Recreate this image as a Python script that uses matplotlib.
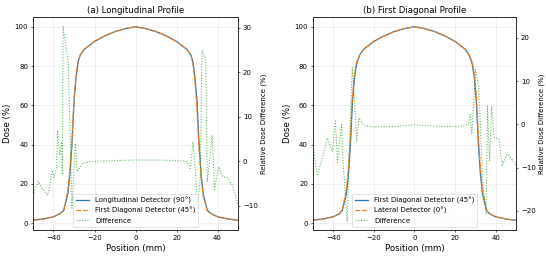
import matplotlib.pyplot as plt
import numpy as np

# dose profiles (position in mm, dose in %)
pos_a = [-50, -45, -40, -37, -35, -33, -32, -31, -30, -29, -28, -27, -25, -20, -15, -10, -5, 0,
         5, 10, 15, 20, 25, 27, 28, 29, 30, 31, 32, 33, 35, 37, 40, 45, 50]
long_a = [1.5, 2.2, 3.3, 4.8, 6.5, 15, 25, 40, 62, 74, 82, 85.5, 88.5, 92.5, 95.3, 97.5, 99, 100,
          99, 97.5, 95.3, 92.5, 88.5, 85.5, 82, 74, 62, 40, 25, 15, 6.5, 4.8, 3.3, 2.2, 1.5]
diag_a = [1.5, 2.2, 3.3, 4.8, 6.8, 16.5, 27, 42, 63, 75, 82.5, 85.5, 88.5, 92.5, 95.3, 97.5, 99, 100,
          99, 97.5, 95.3, 92.5, 88.5, 85.5, 81.5, 72, 57, 37, 23, 14, 6.3, 4.8, 3.3, 2.2, 1.5]

diff_pos_a = [-50, -47.4, -45.5, -42.8, -40.5, -39.7, -38.5, -38, -37, -36, -35.7, -35.3, -34, -32.8,
              -31, -29.4, -28.5, -25.5, -20, -10, 0, 10, 20, 25, 26.7, 28.1, 29.2, 30.3, 31.6, 32.4,
              34.2, 35, 37.4, 38.5, 40.5, 42.3, 44.8, 47.2, 50]
diff_a = [-7.6, -4.5, -6.1, -7.6, -2, -3.7, -1.2, 7, 1.4, 4.4, -3, 30.2, 26, 22.3,
          -10.5, 4, -2.3, -0.3, 0, 0.2, 0.3, 0.3, 0.2, 0, -1.6, 4.4, -2.3, -10.5, -3, 25,
          23, -4.6, 5.9, -6.3, -1.2, -3.4, -3.7, -5.3, -9.8]

pos_b = [-50, -45, -40, -37, -35.5, -33.5, -32.5, -31.5, -30.5, -29.5, -28.5, -27, -25, -20, -15, -10, -5, 0,
         5, 10, 15, 20, 25, 27, 28.5, 29.5, 30.5, 31.5, 32.5, 33.5, 35.5, 37, 40, 45, 50]
diag_b = [1.5, 2.2, 3.3, 4.8, 6.5, 15, 25, 40, 62, 74, 81, 85.5, 88.5, 92.5, 95.3, 97.5, 99, 100,
          99, 97.5, 95.3, 92.5, 88.5, 85.5, 81, 74, 62, 40, 25, 15, 6.5, 4.8, 3.3, 2.2, 1.5]
lat_b = [1.5, 2.2, 3.3, 4.8, 6.8, 17, 28, 44, 65, 76, 82, 85.5, 88.5, 92.5, 95.3, 97.5, 99, 100,
         99, 97.5, 95.3, 92.5, 88.5, 85.5, 82, 76, 65, 44, 28, 17, 6.8, 4.8, 3.3, 2.2, 1.5]

diff_pos_b = [-50.2, -47.8, -45, -42.8, -40.4, -38.9, -37.9, -35.8, -35.3, -34.3, -33.1, -32, -30.6, -29.6,
              -28.4, -27.4, -24.6, -20, -10, 0, 10, 20, 24.6, 26.5, 27.5, 28.3, 30.1, 31.6, 33.3, 34.1,
              35.3, 36, 37, 38, 39.3, 41.6, 43.2, 45.5, 47.4, 50]
diff_b = [-3.9, -11.9, -7, -3.2, -6.3, 0.8, -8.8, 0, -7.7, -14, -22.5, -5, 13.1, 6.2,
          -3.9, 1.5, -0.3, -0.6, -0.5, -0.1, -0.4, -0.5, -0.3, 0.2, 2.3, -2.3, 12.7, 8.8, -9.2, -15.4,
          -20.8, 4.2, -8.5, 4.2, -3, -3.4, -9.6, -6.9, -7.7, -9.4]

fig = plt.figure(figsize=(10.92, 5.2))
ax_a = fig.add_axes([0.0604, 0.1154, 0.436 - 0.0604, 0.8192])
ax_b = fig.add_axes([0.573, 0.1154, 0.945 - 0.573, 0.8192])

panels = [
    (ax_a, '(a) Longitudinal Profile', pos_a, long_a, diag_a,
     'Longitudinal Detector (90°)', 'First Diagonal Detector (45°)', diff_pos_a, diff_a, (-15.4, 32.4)),
    (ax_b, '(b) First Diagonal Profile', pos_b, diag_b, lat_b,
     'First Diagonal Detector (45°)', 'Lateral Detector (0°)', diff_pos_b, diff_b, (-24.4, 24.8)),
]

for ax, title, pos, d1, d2, lab1, lab2, dpos, diff, dlim in panels:
    l1, = ax.plot(pos, d1, '-', color='tab:blue', linewidth=1.8, label=lab1)
    l2, = ax.plot(pos, d2, '--', color='tab:orange', linewidth=1.8, label=lab2)
    ax.set_xlim(-50, 50)
    ax.set_xlabel('Position (mm)', fontsize=12.5)
    ax.set_ylabel('Dose (%)', fontsize=12.5)
    ax.set_title(title, fontsize=12.5)
    ax.grid(True, alpha=0.3)
    ax.tick_params(labelsize=10)

    ax2 = ax.twinx()
    l3, = ax2.plot(dpos, diff, ':', color='tab:green', linewidth=1.5, alpha=0.8, label='Difference')
    ax2.set_ylim(*dlim)
    ax2.set_ylabel('Relative Dose Difference (%)', fontsize=10)
    ax2.tick_params(labelsize=10)

    lines = [l1, l2, l3]
    ax2.legend(lines, [l.get_label() for l in lines], loc='lower center', fontsize=10)

fig.savefig('out.png', dpi=50)
